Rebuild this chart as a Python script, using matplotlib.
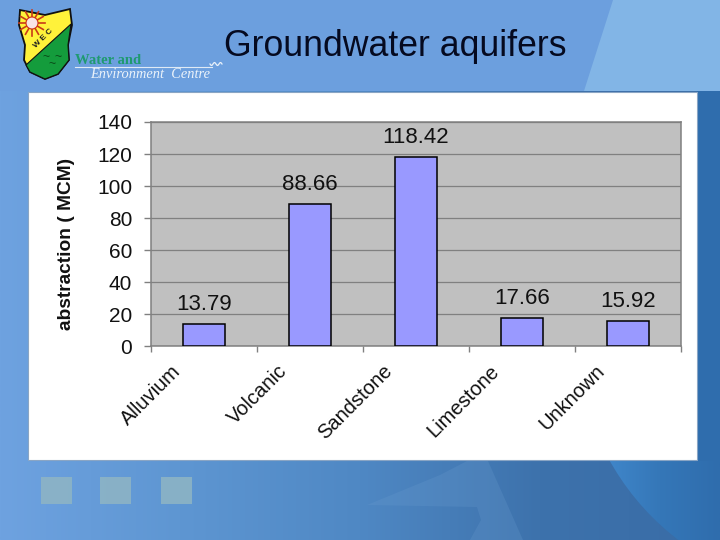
import numpy as np
import matplotlib
matplotlib.use("Agg")
import matplotlib.pyplot as plt
from matplotlib.colors import LinearSegmentedColormap
from matplotlib.patches import Rectangle, Polygon, Circle

categories = ["Alluvium", "Volcanic", "Sandstone", "Limestone", "Unknown"]
abstraction = [13.79, 88.66, 118.42, 17.66, 15.92]
y_ticks = [0, 20, 40, 60, 80, 100, 120, 140]

plt.rcParams['font.family'] = ['Liberation Sans', 'DejaVu Sans']

W, H = 720, 540
fig = plt.figure(figsize=(7.2, 5.4), dpi=100)

# slide background, pixel coordinates
bg = fig.add_axes([0, 0, 1, 1])
bg.set_xlim(0, W)
bg.set_ylim(H, 0)
bg.axis('off')
grad = LinearSegmentedColormap.from_list('slide', ['#6ea2e0', '#5e96d2', '#4f88c4', '#3d72ac', '#396ca6'])
bg.imshow(np.linspace(0, 1, 256).reshape(1, -1), cmap=grad, extent=[0, W, H, 0], aspect='auto', zorder=0)

# top band and its pale wedge
bg.add_patch(Rectangle((0, 0), W, 91, color='#6c9fde', lw=0, zorder=1))
bg.add_patch(Polygon([[613, 0], [720, 0], [720, 91], [584, 91]], color='#82b5e6', lw=0, zorder=1))

# shapes at the bottom
bg.add_patch(Polygon([[367, 505], [440, 475], [467, 461], [488, 461], [523, 540], [470, 540], [481, 520], [477, 507]],
                     color='#6a9ccf', alpha=0.25, lw=0, zorder=1))
curve = LinearSegmentedColormap.from_list('curve', ['#4188cc', '#3577b8', '#2f6dad'])
im = bg.imshow(np.linspace(0, 1, 64).reshape(1, -1), cmap=curve, extent=[600, 720, H, 91], aspect='auto', zorder=1)
im.set_clip_path(Circle((835, 335), 258, transform=bg.transData))
bg.set_xlim(0, W)
bg.set_ylim(H, 0)
bg.add_patch(Rectangle((697, 91), 23, 370, color='#2f6dad', lw=0, zorder=1))

# three squares
for x0 in (41, 100, 161):
    bg.add_patch(Rectangle((x0, 477), 31, 27, color='#8fb5c4', alpha=0.85, lw=0, zorder=2))

# white panel
bg.add_patch(Rectangle((28, 92), 669, 368, facecolor='white', edgecolor='#8aa5c4', lw=0.8, zorder=3))

# logo
bg.add_patch(Polygon([[20, 10], [45, 15], [70, 9], [72, 25], [68, 45], [69, 60], [58, 74], [45, 79], [30, 72], [24, 60], [25, 45], [19, 25]],
                     facecolor='#fff23a', edgecolor='#101010', lw=1.3, zorder=4))
bg.add_patch(Polygon([[71, 24], [68, 45], [69, 60], [58, 74], [45, 79], [30, 72], [26, 65]],
                     facecolor='#149c3c', edgecolor='#101010', lw=0.8, zorder=4))
for a in np.arange(0, 360, 30):
    dx, dy = np.cos(np.radians(a)), np.sin(np.radians(a))
    bg.plot([32 + 6 * dx, 32 + 13 * dx], [23 + 6 * dy, 23 + 13 * dy], color='#c83a18', lw=1.2, zorder=5)
bg.add_patch(Circle((32, 23), 6, facecolor='#f8e4e4', edgecolor='#d03010', lw=0.8, zorder=6))
bg.text(44, 38, "W E C", fontsize=6, fontweight='bold', rotation=45, ha='center', va='center', color='#202020', zorder=5)
for wx, wy in ((46, 57), (58, 57), (52, 64)):
    bg.text(wx, wy, "~", fontsize=9, color='#0a4a18', ha='center', va='center', zorder=5)
bg.text(75, 60, "Water and", family='Liberation Serif', fontsize=10.5, fontweight='bold', color='#1f9a70', ha='left', va='center', zorder=5)
bg.plot([75, 212], [66.5, 66.5], color='#dfeaf5', lw=0.8, zorder=5)
sq = np.linspace(0, 1, 20)
bg.plot(210 + 12 * sq, 64 + 1.5 * np.sin(sq * 4 * np.pi), color='#eaf2fa', lw=0.9, zorder=5)
bg.text(90, 74, "Environment  Centre", family='Liberation Serif', style='italic', fontsize=10.4, color='#eaf2fa', ha='left', va='center', zorder=5)

# title
bg.text(224, 46, "Groundwater aquifers", fontsize=25.7, color='#050a20', ha='left', va='center', zorder=5)

# chart
x0, x1, y_top, y_bot = 151, 681, 122, 346
ax = fig.add_axes([x0 / W, 1 - y_bot / H, (x1 - x0) / W, (y_bot - y_top) / H], zorder=2)
ax.set_facecolor('#c0c0c0')
pos = np.arange(len(categories))
ax.bar(pos, abstraction, width=0.4, color='#9999ff', edgecolor='black', linewidth=1.1, zorder=3)
ax.set_xlim(-0.5, 4.5)
ax.set_ylim(0, 140)
ax.set_yticks(y_ticks)
ax.tick_params(axis='y', labelsize=15, length=5, width=1, color='#808080', pad=8.5, labelcolor='#111111')
ax.set_xticks(np.arange(-0.5, 5, 1))
ax.set_xticklabels([])
ax.tick_params(axis='x', length=4, width=1, color='#808080')
ax.grid(axis='y', color='#808080', lw=0.9, zorder=1)
for s in ax.spines.values():
    s.set_color('#808080')
    s.set_linewidth(1.1)

for i, v in enumerate(abstraction):
    ax.annotate(f"{v:.2f}", (i, v), xytext=(0, 6.5), textcoords='offset points', ha='center', va='bottom',
                fontsize=16, color='#111111', zorder=4)
    ax.annotate(categories[i], (i, 0), xytext=(-14, -11), textcoords='offset points', ha='right', va='top',
                rotation=45, fontsize=14.5, color='#111111', annotation_clip=False)

ax.set_ylabel("abstraction ( MCM)", fontsize=13.8, fontweight='bold', color='#111111')
ax.yaxis.set_label_coords((75 - x0) / (x1 - x0), (y_bot - 244) / (y_bot - y_top))

fig.savefig("out.png", dpi=100)
